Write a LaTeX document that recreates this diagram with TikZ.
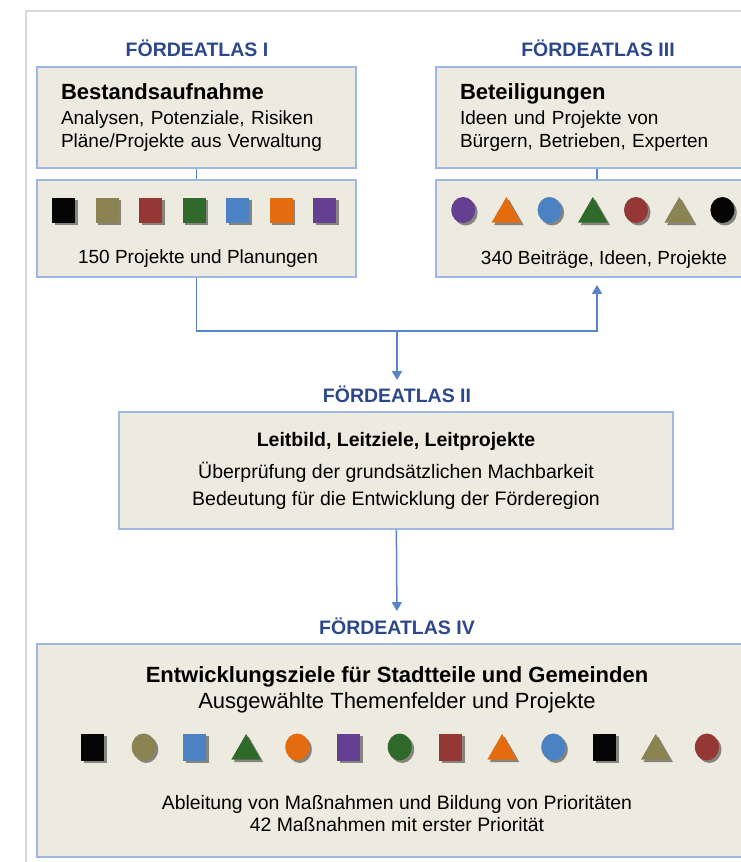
\documentclass[tikz,border=0pt]{standalone}
\usepackage{fontspec}
\setmainfont{Liberation Sans}
\usepackage{tikz}
\usetikzlibrary{shapes,arrows.meta,shadows}
\definecolor{boxfill}{RGB}{237,234,223}
\definecolor{boxline}{RGB}{157,183,225}
\definecolor{linkblue}{RGB}{88,133,199}
\definecolor{atlasblue}{RGB}{44,72,138}
\definecolor{shblack}{RGB}{5,5,5}
\definecolor{sholive}{RGB}{139,132,82}
\definecolor{shred}{RGB}{149,55,53}
\definecolor{shgreen}{RGB}{47,106,43}
\definecolor{shblue}{RGB}{74,130,195}
\definecolor{shorange}{RGB}{228,108,14}
\definecolor{shpurple}{RGB}{100,63,146}
\tikzstyle{frame}=[draw=black!15, line width=2pt]
\tikzstyle{box}=[draw=boxline, fill=boxfill, line width=1.8pt, inner sep=0pt,
    font=\fontsize{19}{23}\selectfont, text=black]
\tikzstyle{atlas}=[text=atlasblue, font=\fontsize{19.5}{22}\selectfont\bfseries]
\tikzstyle{plain}=[text=black, align=center, font=\fontsize{19}{23}\selectfont]
\tikzstyle{link}=[draw=linkblue, line width=1.5pt]
\tikzstyle{sym}=[draw=none, inner sep=0pt,
    drop shadow={shadow xshift=2.5pt, shadow yshift=-2.5pt, fill=black!75, opacity=0.6}]
\tikzstyle{sq}=[sym, rectangle, minimum width=23pt, minimum height=25pt]
\tikzstyle{ci}=[sym, ellipse, minimum width=24pt, minimum height=26pt]
\tikzstyle{tri}=[sym, regular polygon, regular polygon sides=3, minimum size=34pt, yshift=-4pt]
\newcommand{\boxtitle}{\fontsize{22}{26}\selectfont\bfseries}
\newcommand{\midtitle}{\fontsize{19.5}{26}\selectfont\bfseries}

\begin{document}
\begin{tikzpicture}[x=1pt,y=-1pt]
\useasboundingbox (0,0) rectangle (741,862);
\clip (0,0) rectangle (741,862);
\path[frame] (26,11) rectangle (790,900);
% Foerdeatlas I
\path (197,48) node [atlas] (h1) {FÖRDEATLAS I};
\path (196.5,117.5) node [box, minimum width=319pt, minimum height=101pt,
    text width=271pt, align=left] (b1)
    {{\boxtitle Bestandsaufnahme}\\[2pt]
     Analysen, Potenziale, Risiken\\ Pläne/Projekte aus Verwaltung};
\path (196.5,228.5) node [box, minimum width=319pt, minimum height=97pt] (p1) {};
\foreach \s/\c [count=\i] in {sq/shblack, sq/sholive, sq/shred, sq/shgreen,
    sq/shblue, sq/shorange, sq/shpurple}
  \path (20+43.5*\i,210) node [\s, fill=\c] (q\i) {};
\path (198,259) node [plain] (n1) {150 Projekte und Planungen};
% Foerdeatlas III
\path (598,48) node [atlas] (h3) {FÖRDEATLAS III};
\path (597,117.5) node [box, minimum width=322pt, minimum height=101pt,
    text width=274pt, align=left] (b3)
    {{\boxtitle Beteiligungen}\\[2pt]
     Ideen und Projekte von\\ Bürgern, Betrieben, Experten};
\path (597,228.5) node [box, minimum width=322pt, minimum height=97pt] (p3) {};
\foreach \s/\c [count=\i] in {ci/shpurple, tri/shorange, ci/shblue, tri/shgreen,
    ci/shred, tri/sholive, ci/shblack}
  \path (420+43.2*\i,210) node [\s, fill=\c] (r\i) {};
\path (604,260) node [plain] (n3) {340 Beiträge, Ideen, Projekte};
% Foerdeatlas II
\path (397,394) node [atlas] (h2) {FÖRDEATLAS II};
\path (396,470.5) node [box, minimum width=554pt, minimum height=117pt,
    align=center, font=\fontsize{19.5}{27}\selectfont] (b2)
    {{\midtitle Leitbild, Leitziele, Leitprojekte}\\[5pt]
     Überprüfung der grundsätzlichen Machbarkeit\\
     Bedeutung für die Entwicklung der Förderegion};
% Foerdeatlas IV
\path (397,626) node [atlas] (h4) {FÖRDEATLAS IV};
\path (397,750.5) node [box, minimum width=720pt, minimum height=213pt] (b4) {};
\path (397,690) node [plain, font=\fontsize{22}{26}\selectfont] (t4)
    {{\bfseries Entwicklungsziele für Stadtteile und Gemeinden}\\
     Ausgewählte Themenfelder und Projekte};
\foreach \s/\c [count=\i] in {sq/shblack, ci/sholive, sq/shblue, tri/shgreen,
    ci/shorange, sq/shpurple, ci/shgreen, sq/shred, tri/shorange, ci/shblue,
    sq/shblack, tri/sholive, ci/shred}
  \path (41.3+51.2*\i,747) node [\s, fill=\c, minimum height=27pt] (u\i) {};
\path (397,814) node [plain, font=\fontsize{19.4}{22}\selectfont] (m4)
    {Ableitung von Maßnahmen und Bildung von Prioritäten\\
     42 Maßnahmen mit erster Priorität};
% connectors
\coordinate (j) at (397,331);
\draw [link] (b1) -- (p1);
\draw [link] (b3) -- (p3);
\draw [link, -{Triangle[width=10pt,length=9pt]}, shorten >=7pt]
    (p1.south) -- (p1.south |- j) -| (p3.south);
\draw [link, -{Triangle[width=10pt,length=9pt]}, shorten >=2pt] (j) -- (h2);
\draw [link, -{Triangle[width=10pt,length=9pt]}, shorten >=3pt] (b2) -- (h4);
\end{tikzpicture}
\end{document}
